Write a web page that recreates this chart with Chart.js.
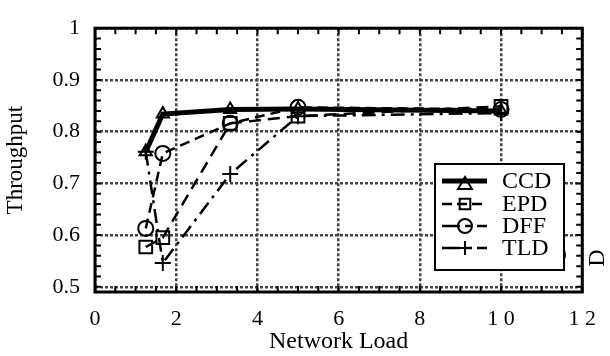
<!DOCTYPE html>
<html>
<head>
<meta charset="utf-8">
<script src="https://cdn.jsdelivr.net/npm/chart.js@4.4.1/dist/chart.umd.min.js"></script>
<style>
  html, body { margin: 0; padding: 0; background: #fff; }
  #wrap { width: 610px; height: 356px; }
</style>
</head>
<body>
<div id="wrap"><canvas id="c" width="610" height="356"></canvas></div>
<script>
// ---- data ----
const loads = [1.25, 1.67, 3.33, 5, 10];
const seriesNames = ['CCD', 'EPD', 'DFF', 'TLD'];
const ccd = [0.761, 0.834, 0.843, 0.844, 0.840];
const epd = [0.577, 0.595, 0.816, 0.830, 0.849];
const dff = [0.613, 0.758, 0.816, 0.847, 0.843];
const tld = [0.761, 0.546, 0.718, 0.830, 0.836];
const xTicks = [0, 2, 4, 6, 8, 10, 12];
const xTickLabels = ['0', '2', '4', '6', '8', '1 0', '1 2'];
const yTicks = [0.5, 0.6, 0.7, 0.8, 0.9, 1];
const yTickLabels = ['0.5', '0.6', '0.7', '0.8', '0.9', '1'];
const xTitle = 'Network Load';
const yTitle = 'Throughput';
const sideText = 'D';

const FONT = 'Liberation Serif, Times New Roman, serif';
const values = [ccd, epd, dff, tld];
const styles = [
  { pointStyle: 'triangle', radius: 7, width: 5, dash: [] },
  { pointStyle: 'rect', radius: 9, width: 2.5, dash: [12, 7] },
  { pointStyle: 'circle', radius: 7.5, width: 2.5, dash: [10, 6] },
  { pointStyle: 'cross', radius: 8, width: 2.5, dash: [14, 6, 3, 6] }
];

const datasets = seriesNames.map((name, i) => ({
  label: name,
  data: loads.map((x, j) => ({ x: x, y: values[i][j] })),
  borderColor: '#000',
  borderWidth: styles[i].width,
  borderDash: styles[i].dash,
  pointStyle: styles[i].pointStyle,
  pointRadius: styles[i].radius,
  pointBorderWidth: 2,
  pointBorderColor: '#000',
  pointBackgroundColor: 'rgba(0,0,0,0)',
  fill: false,
  tension: 0,
  clip: 8
}));

const framePlugin = {
  id: 'frame',
  afterDatasetsDraw(chart) {
    const { ctx, chartArea: a, scales } = chart;
    ctx.save();
    ctx.strokeStyle = '#000';
    ctx.setLineDash([]);
    ctx.lineWidth = 2;
    const tl = 6;
    ctx.beginPath();
    // y ticks every 0.02
    for (let k = 0; k <= 25; k++) {
      const v = 0.5 + k * 0.02;
      if (v > 1.0001) break;
      const py = scales.y.getPixelForValue(v);
      ctx.moveTo(a.left, py); ctx.lineTo(a.left + tl, py);
      ctx.moveTo(a.right, py); ctx.lineTo(a.right - tl, py);
    }
    // x ticks every 0.5
    for (let k = 0; k <= 24; k++) {
      const v = k * 0.5;
      const px = scales.x.getPixelForValue(v);
      ctx.moveTo(px, a.bottom); ctx.lineTo(px, a.bottom - tl);
      ctx.moveTo(px, a.top); ctx.lineTo(px, a.top + tl);
    }
    ctx.stroke();
    // frame
    ctx.lineWidth = 3;
    ctx.strokeRect(a.left, a.top, a.right - a.left, a.bottom - a.top);
    ctx.restore();
  },
  afterDraw(chart) {
    const { ctx } = chart;
    ctx.save();
    // stray glyph partly hidden behind the legend box
    ctx.fillStyle = '#000';
    ctx.font = '22px ' + FONT;
    ctx.textAlign = 'center';
    ctx.textBaseline = 'middle';
    ctx.fillText('O', 559, 256);
    // side text (rotated)
    ctx.save();
    ctx.translate(598, 258);
    ctx.rotate(-Math.PI / 2);
    ctx.font = '24px ' + FONT;
    ctx.fillText(sideText, 0, 0);
    ctx.restore();

    // legend box
    const box = { left: 435, top: 164, right: 564, bottom: 270 };
    ctx.fillStyle = '#fff';
    ctx.fillRect(box.left, box.top, box.right - box.left, box.bottom - box.top);
    ctx.lineWidth = 2;
    ctx.strokeStyle = '#000';
    ctx.strokeRect(box.left, box.top, box.right - box.left, box.bottom - box.top);
    const rowY = [181, 204, 226, 248];
    chart.data.datasets.forEach((ds, i) => {
      const y = rowY[i];
      ctx.save();
      ctx.strokeStyle = '#000';
      ctx.lineWidth = ds.borderWidth;
      ctx.setLineDash(i === 0 ? [] : (i === 1 ? [10, 5] : [18, 5, 7, 5]));
      ctx.beginPath();
      ctx.moveTo(442, y); ctx.lineTo(487, y);
      ctx.stroke();
      ctx.setLineDash([]);
      ctx.lineWidth = 2;
      ctx.fillStyle = 'rgba(0,0,0,0)';
      Chart.helpers.drawPoint(ctx, {
        pointStyle: ds.pointStyle,
        radius: i === 0 ? 8 : (i === 1 ? 7.5 : 7),
        borderWidth: 2,
        rotation: 0
      }, 465, i === 0 ? y + 4 : y);
      ctx.restore();
      ctx.fillStyle = '#000';
      ctx.font = '24px ' + FONT;
      ctx.textAlign = 'left';
      ctx.textBaseline = 'middle';
      ctx.fillText(ds.label, 502, y + 1);
    });
    ctx.restore();
  }
};

new Chart(document.getElementById('c'), {
  type: 'line',
  data: { datasets },
  options: {
    responsive: false,
    devicePixelRatio: 1,
    animation: false,
    layout: { padding: { left: 0, top: 12, right: 21, bottom: 0 } },
    plugins: { legend: { display: false }, tooltip: { enabled: false } },
    scales: {
      x: {
        type: 'linear',
        min: 0, max: 12,
        afterBuildTicks: s => { s.ticks = xTicks.map(v => ({ value: v })); },
        afterFit: s => { s.height = 64; },
        grid: { color: '#444', lineWidth: 2.5, drawTicks: false },
        border: { display: false, dash: [3, 2] },
        ticks: {
          autoSkip: false, maxRotation: 0, padding: 14,
          color: '#000',
          font: { family: FONT, size: 22 },
          callback: v => xTickLabels[xTicks.indexOf(v)]
        },
        title: {
          display: true, text: xTitle, color: '#000',
          font: { family: FONT, size: 24 },
          padding: { top: 0, bottom: 0 }
        }
      },
      y: {
        type: 'linear',
        min: 0.49, max: 1.0,
        afterBuildTicks: s => { s.ticks = yTicks.map(v => ({ value: v })); },
        afterFit: s => { s.width = 95; },
        grid: { color: '#444', lineWidth: 2.5, drawTicks: false },
        border: { display: false, dash: [3, 2] },
        ticks: {
          autoSkip: false, padding: 15,
          color: '#000',
          font: { family: FONT, size: 22 },
          callback: v => yTickLabels[yTicks.findIndex(t => Math.abs(t - v) < 1e-9)]
        },
        title: {
          display: true, text: yTitle, color: '#000',
          font: { family: FONT, size: 23 },
          padding: { top: 2, bottom: 0 }
        }
      }
    }
  },
  plugins: [framePlugin]
});
</script>
</body>
</html>
